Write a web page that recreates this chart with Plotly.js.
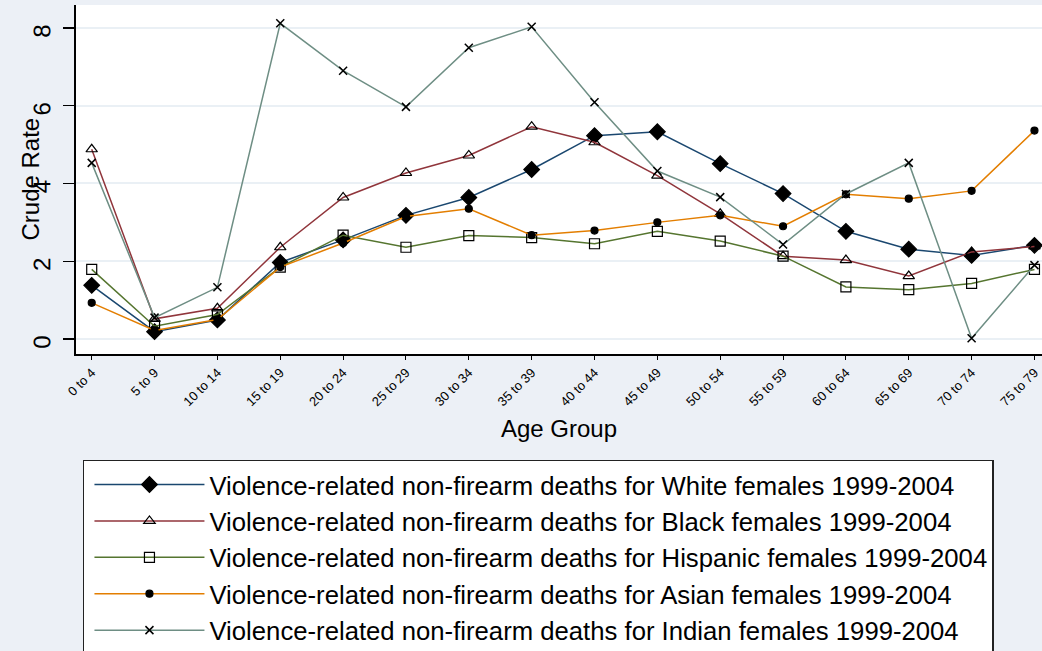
<!DOCTYPE html>
<html>
<head>
<meta charset="utf-8">
<script src="https://cdn.plot.ly/plotly-3.0.1.min.js"></script>
<style>
html,body{margin:0;padding:0;background:#ecf0f6;}
#chart{width:1042px;height:651px;}
</style>
</head>
<body>
<div id="chart"></div>
<script>
const ageGroups = ["0 to 4","5 to 9","10 to 14","15 to 19","20 to 24","25 to 29","30 to 34","35 to 39","40 to 44","45 to 49","50 to 54","55 to 59","60 to 64","65 to 69","70 to 74","75 to 79"];
const seriesNames = [
  "Violence-related non-firearm deaths for White females 1999-2004",
  "Violence-related non-firearm deaths for Black females 1999-2004",
  "Violence-related non-firearm deaths for Hispanic females 1999-2004",
  "Violence-related non-firearm deaths for Asian females 1999-2004",
  "Violence-related non-firearm deaths for Indian females 1999-2004"
];
const white    = [1.38, 0.19, 0.49, 1.97, 2.55, 3.18, 3.64, 4.36, 5.23, 5.33, 4.51, 3.74, 2.77, 2.31, 2.15, 2.41];
const black    = [4.88, 0.52, 0.79, 2.36, 3.64, 4.27, 4.72, 5.46, 5.06, 4.20, 3.22, 2.13, 2.03, 1.62, 2.24, 2.38];
const hispanic = [1.79, 0.33, 0.63, 1.85, 2.67, 2.36, 2.66, 2.61, 2.45, 2.77, 2.52, 2.13, 1.34, 1.27, 1.43, 1.79];
const asian    = [0.93, 0.22, 0.50, 1.85, 2.47, 3.15, 3.35, 2.67, 2.79, 3.00, 3.18, 2.90, 3.72, 3.61, 3.81, 5.36];
const indian   = [4.53, 0.55, 1.33, 8.12, 6.90, 5.97, 7.49, 8.03, 6.09, 4.32, 3.65, 2.43, 3.73, 4.53, 0.02, 1.90];
const yTicks = [0, 2, 4, 6, 8];

const seriesValues = [white, black, hispanic, asian, indian];
const colors = ["#1a476f", "#90353b", "#55752f", "#e37e00", "#6e8e84"];
const symbols = ["diamond", "triangle-up-open", "square-open", "circle", "x-thin-open"];
const sizes = [12, 10, 10, 7, 8];

const xIdx = ageGroups.map((_, i) => i);
const traces = seriesValues.map((vals, k) => ({
  type: "scatter",
  mode: "lines+markers",
  x: xIdx,
  y: vals,
  name: seriesNames[k],
  legendgroup: "g" + k,
  line: {color: colors[k], width: 1.5},
  marker: {symbol: symbols[k], size: sizes[k], color: "#000000",
           line: {color: "#000000", width: k === 4 ? 1.5 : 1.2}}
}));

const layout = {
  width: 1042, height: 651,
  paper_bgcolor: "#ecf0f6",
  plot_bgcolor: "#ffffff",
  margin: {l: 76, r: 0, t: 5, b: 297, pad: 0, autoexpand: false},
  font: {family: "Liberation Sans, Arial, sans-serif", color: "#000000"},
  showlegend: true,
  legend: {
    x: 0.0072, y: -0.3031, xanchor: "left", yanchor: "top",
    bgcolor: "#ffffff", bordercolor: "#222222", borderwidth: 1.5,
    font: {size: 25.7, color: "#000000"},
    itemwidth: 110, indentation: 5, tracegroupgap: 9, traceorder: "normal"
  },
  xaxis: {
    range: [-0.25, 15.12],
    tickmode: "array", tickvals: xIdx, ticktext: ageGroups,
    tickangle: -45, tickfont: {size: 13},
    ticks: "outside", ticklen: 4, tickcolor: "#000000",
    showline: true, linecolor: "#000000", linewidth: 2,
    showgrid: false, zeroline: false,
    title: {text: "Age Group", font: {size: 24}, standoff: 12}
  },
  yaxis: {
    range: [-0.385, 8.59],
    tickmode: "array", tickvals: yTicks, ticktext: yTicks.map(String),
    tickangle: -89.9, tickfont: {size: 24},
    ticks: "outside", ticklen: 11, tickcolor: "#000000", tickwidth: 1.5,
    ticklabelstandoff: 20,
    showline: true, linecolor: "#000000", linewidth: 2,
    showgrid: true, gridcolor: "#eaf0f5", gridwidth: 2,
    zeroline: false
  },
  annotations: [{
    text: "Crude Rate", textangle: -90, showarrow: false,
    xref: "paper", yref: "paper", x: -0.0476, y: 0.5,
    xanchor: "center", yanchor: "middle",
    font: {size: 24, color: "#000000"}
  }]
};

Plotly.newPlot("chart", traces, layout, {displayModeBar: false, staticPlot: true});
</script>
</body>
</html>
